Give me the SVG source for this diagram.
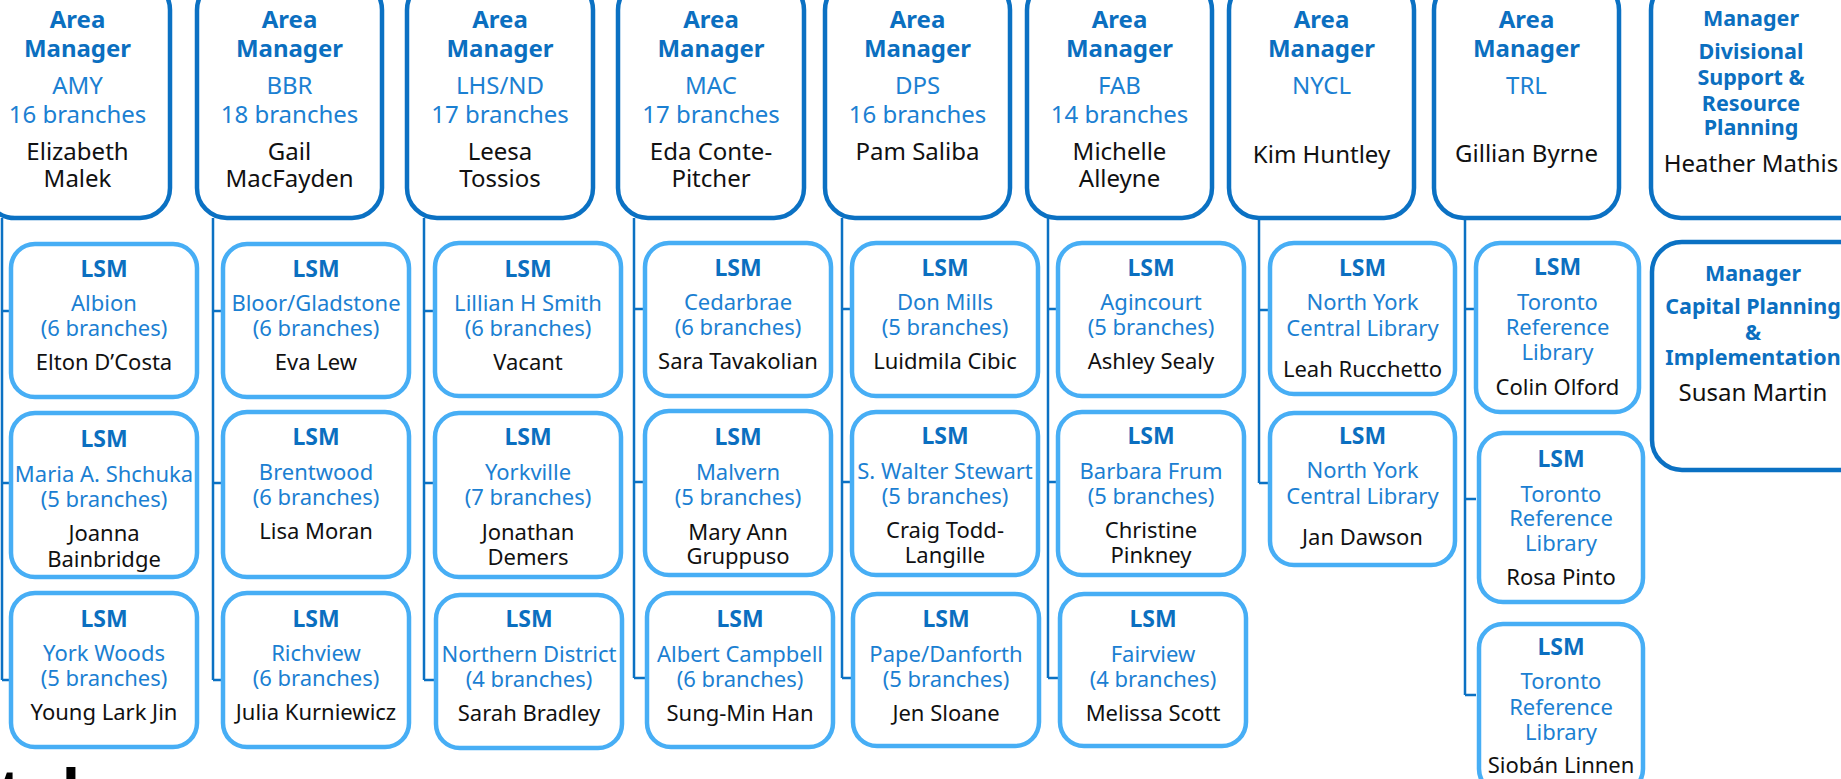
<svg xmlns="http://www.w3.org/2000/svg" width="1841" height="779" viewBox="0 0 1841 779">
<style>
text{font-family:"Noto Sans","Open Sans","Liberation Sans",sans-serif;text-anchor:middle}
.am{fill:#fff;stroke:#0b71c3;stroke-width:4.5}
.ls{fill:#fff;stroke:#47aef5;stroke-width:4.5}
.h{font-weight:bold;fill:#0b6fc0;font-size:24px}
.hs{font-weight:bold;fill:#0b6fc0;font-size:21.5px}
.c{fill:#1b80d2;font-size:24px}
.n{fill:#111;font-size:24px}
.lb{font-weight:bold;fill:#0b6fc0;font-size:23px}
.lr{fill:#1b80d2;font-size:22px}
.ln{fill:#111;font-size:22px}
.con{fill:none;stroke:#0b71c3;stroke-width:2.5}
</style>
<rect width="1841" height="779" fill="#fff"/>
<g id="connectors" class="con">
<path d="M2 218V680M2 311H11M2 483H11M2 680H11"/>
<path d="M213 218V680M213 311H223M213 483H223M213 680H223"/>
<path d="M424 218V680M424 311H435M424 483H435M424 680H435"/>
<path d="M634 218V678M634 309H645M634 482H645M634 678H645"/>
<path d="M842 218V678M842 309H852M842 482H852M842 678H852"/>
<path d="M1048 218V678M1048 309H1058M1048 482H1058M1048 678H1058"/>
<path d="M1259 218V483M1259 310H1270M1259 483H1270"/>
<path d="M1465 218V695M1465 309H1476M1465 499H1476M1465 695H1476"/>
</g>
<g id="am-amy"><rect class="am" x="-15" y="-20" width="185" height="238" rx="30"/>
<text x="77.5" y="28" class="h">Area</text><text x="77.5" y="57" class="h">Manager</text>
<text x="77.5" y="94" class="c">AMY</text><text x="77.5" y="123" class="c">16 branches</text>
<text x="77.5" y="160" class="n">Elizabeth</text><text x="77.5" y="187" class="n">Malek</text></g>
<g id="am-bbr"><rect class="am" x="197" y="-20" width="185" height="238" rx="30"/>
<text x="289.5" y="28" class="h">Area</text><text x="289.5" y="57" class="h">Manager</text>
<text x="289.5" y="94" class="c">BBR</text><text x="289.5" y="123" class="c">18 branches</text>
<text x="289.5" y="160" class="n">Gail</text><text x="289.5" y="187" class="n">MacFayden</text></g>
<g id="am-lhs"><rect class="am" x="407" y="-20" width="186" height="238" rx="30"/>
<text x="500" y="28" class="h">Area</text><text x="500" y="57" class="h">Manager</text>
<text x="500" y="94" class="c">LHS/ND</text><text x="500" y="123" class="c">17 branches</text>
<text x="500" y="160" class="n">Leesa</text><text x="500" y="187" class="n">Tossios</text></g>
<g id="am-mac"><rect class="am" x="618" y="-20" width="186" height="238" rx="30"/>
<text x="711" y="28" class="h">Area</text><text x="711" y="57" class="h">Manager</text>
<text x="711" y="94" class="c">MAC</text><text x="711" y="123" class="c">17 branches</text>
<text x="711" y="160" class="n">Eda Conte-</text><text x="711" y="187" class="n">Pitcher</text></g>
<g id="am-dps"><rect class="am" x="825" y="-20" width="185" height="238" rx="30"/>
<text x="917.5" y="28" class="h">Area</text><text x="917.5" y="57" class="h">Manager</text>
<text x="917.5" y="94" class="c">DPS</text><text x="917.5" y="123" class="c">16 branches</text>
<text x="917.5" y="160" class="n">Pam Saliba</text></g>
<g id="am-fab"><rect class="am" x="1027" y="-20" width="185" height="238" rx="30"/>
<text x="1119.5" y="28" class="h">Area</text><text x="1119.5" y="57" class="h">Manager</text>
<text x="1119.5" y="94" class="c">FAB</text><text x="1119.5" y="123" class="c">14 branches</text>
<text x="1119.5" y="160" class="n">Michelle</text><text x="1119.5" y="187" class="n">Alleyne</text></g>
<g id="am-nycl"><rect class="am" x="1229" y="-20" width="185" height="238" rx="30"/>
<text x="1321.5" y="28" class="h">Area</text><text x="1321.5" y="57" class="h">Manager</text>
<text x="1321.5" y="94" class="c">NYCL</text>
<text x="1321.5" y="163" class="n">Kim Huntley</text></g>
<g id="am-trl"><rect class="am" x="1434" y="-20" width="185" height="238" rx="30"/>
<text x="1526.5" y="28" class="h">Area</text><text x="1526.5" y="57" class="h">Manager</text>
<text x="1526.5" y="94" class="c">TRL</text>
<text x="1526.5" y="162" class="n">Gillian Byrne</text></g>
<g id="mgr-dsrp"><rect class="am" x="1651" y="-20" width="230" height="238" rx="30"/>
<text x="1751" y="26" class="hs">Manager</text>
<text x="1751" y="59" class="hs">Divisional</text><text x="1751" y="85" class="hs">Support &amp;</text>
<text x="1751" y="111" class="hs">Resource</text><text x="1751" y="135" class="hs">Planning</text>
<text x="1751" y="172" class="n">Heather Mathis</text></g>
<g id="mgr-cpi"><rect class="am" x="1652" y="242" width="230" height="228" rx="30"/>
<text x="1753" y="281" class="hs">Manager</text>
<text x="1753" y="314" class="hs">Capital Planning</text><text x="1753" y="340" class="hs">&amp;</text>
<text x="1753" y="365" class="hs">Implementation</text>
<text x="1753" y="401" class="n">Susan Martin</text></g>

<g id="lsm-albion"><rect class="ls" x="11" y="244" width="186" height="153" rx="24"/>
<text x="104" y="277" class="lb">LSM</text><text x="104" y="311" class="lr">Albion</text><text x="104" y="336" class="lr">(6 branches)</text><text x="104" y="370" class="ln">Elton D’Costa</text></g>
<g id="lsm-maria"><rect class="ls" x="11" y="413" width="186" height="164" rx="24"/>
<text x="104" y="447" class="lb">LSM</text><text x="104" y="482" class="lr">Maria A. Shchuka</text><text x="104" y="507" class="lr">(5 branches)</text><text x="104" y="541" class="ln">Joanna</text><text x="104" y="567" class="ln">Bainbridge</text></g>
<g id="lsm-yorkwoods"><rect class="ls" x="11" y="593" width="186" height="154" rx="24"/>
<text x="104" y="627" class="lb">LSM</text><text x="104" y="661" class="lr">York Woods</text><text x="104" y="686" class="lr">(5 branches)</text><text x="104" y="720" class="ln">Young Lark Jin</text></g>

<g id="lsm-bloor"><rect class="ls" x="223" y="244" width="186" height="153" rx="24"/>
<text x="316" y="277" class="lb">LSM</text><text x="316" y="311" class="lr">Bloor/Gladstone</text><text x="316" y="336" class="lr">(6 branches)</text><text x="316" y="370" class="ln">Eva Lew</text></g>
<g id="lsm-brentwood"><rect class="ls" x="223" y="412" width="186" height="165" rx="24"/>
<text x="316" y="445" class="lb">LSM</text><text x="316" y="480" class="lr">Brentwood</text><text x="316" y="505" class="lr">(6 branches)</text><text x="316" y="539" class="ln">Lisa Moran</text></g>
<g id="lsm-richview"><rect class="ls" x="223" y="593" width="186" height="154" rx="24"/>
<text x="316" y="627" class="lb">LSM</text><text x="316" y="661" class="lr">Richview</text><text x="316" y="686" class="lr">(6 branches)</text><text x="316" y="720" class="ln">Julia Kurniewicz</text></g>

<g id="lsm-lillian"><rect class="ls" x="435" y="243" width="186" height="153" rx="24"/>
<text x="528" y="277" class="lb">LSM</text><text x="528" y="311" class="lr">Lillian H Smith</text><text x="528" y="336" class="lr">(6 branches)</text><text x="528" y="370" class="ln">Vacant</text></g>
<g id="lsm-yorkville"><rect class="ls" x="435" y="413" width="186" height="164" rx="24"/>
<text x="528" y="445" class="lb">LSM</text><text x="528" y="480" class="lr">Yorkville</text><text x="528" y="505" class="lr">(7 branches)</text><text x="528" y="540" class="ln">Jonathan</text><text x="528" y="565" class="ln">Demers</text></g>
<g id="lsm-northern"><rect class="ls" x="436" y="595" width="186" height="153" rx="24"/>
<text x="529" y="627" class="lb">LSM</text><text x="529" y="662" class="lr">Northern District</text><text x="529" y="687" class="lr">(4 branches)</text><text x="529" y="721" class="ln">Sarah Bradley</text></g>

<g id="lsm-cedarbrae"><rect class="ls" x="645" y="243" width="186" height="153" rx="24"/>
<text x="738" y="276" class="lb">LSM</text><text x="738" y="310" class="lr">Cedarbrae</text><text x="738" y="335" class="lr">(6 branches)</text><text x="738" y="369" class="ln">Sara Tavakolian</text></g>
<g id="lsm-malvern"><rect class="ls" x="645" y="411" width="186" height="164" rx="24"/>
<text x="738" y="445" class="lb">LSM</text><text x="738" y="480" class="lr">Malvern</text><text x="738" y="505" class="lr">(5 branches)</text><text x="738" y="540" class="ln">Mary Ann</text><text x="738" y="564" class="ln">Gruppuso</text></g>
<g id="lsm-albertcampbell"><rect class="ls" x="647" y="593" width="186" height="154" rx="24"/>
<text x="740" y="627" class="lb">LSM</text><text x="740" y="662" class="lr">Albert Campbell</text><text x="740" y="687" class="lr">(6 branches)</text><text x="740" y="721" class="ln">Sung-Min Han</text></g>

<g id="lsm-donmills"><rect class="ls" x="852" y="243" width="186" height="153" rx="24"/>
<text x="945" y="276" class="lb">LSM</text><text x="945" y="310" class="lr">Don Mills</text><text x="945" y="335" class="lr">(5 branches)</text><text x="945" y="369" class="ln">Luidmila Cibic</text></g>
<g id="lsm-swalter"><rect class="ls" x="852" y="412" width="186" height="163" rx="24"/>
<text x="945" y="444" class="lb">LSM</text><text x="945" y="479" class="lr">S. Walter Stewart</text><text x="945" y="504" class="lr">(5 branches)</text><text x="945" y="538" class="ln">Craig Todd-</text><text x="945" y="563" class="ln">Langille</text></g>
<g id="lsm-pape"><rect class="ls" x="853" y="594" width="186" height="152" rx="24"/>
<text x="946" y="627" class="lb">LSM</text><text x="946" y="662" class="lr">Pape/Danforth</text><text x="946" y="687" class="lr">(5 branches)</text><text x="946" y="721" class="ln">Jen Sloane</text></g>

<g id="lsm-agincourt"><rect class="ls" x="1058" y="243" width="186" height="153" rx="24"/>
<text x="1151" y="276" class="lb">LSM</text><text x="1151" y="310" class="lr">Agincourt</text><text x="1151" y="335" class="lr">(5 branches)</text><text x="1151" y="369" class="ln">Ashley Sealy</text></g>
<g id="lsm-barbarafrum"><rect class="ls" x="1058" y="412" width="186" height="163" rx="24"/>
<text x="1151" y="444" class="lb">LSM</text><text x="1151" y="479" class="lr">Barbara Frum</text><text x="1151" y="504" class="lr">(5 branches)</text><text x="1151" y="538" class="ln">Christine</text><text x="1151" y="563" class="ln">Pinkney</text></g>
<g id="lsm-fairview"><rect class="ls" x="1060" y="594" width="186" height="152" rx="24"/>
<text x="1153" y="627" class="lb">LSM</text><text x="1153" y="662" class="lr">Fairview</text><text x="1153" y="687" class="lr">(4 branches)</text><text x="1153" y="721" class="ln">Melissa Scott</text></g>

<g id="lsm-nycl1"><rect class="ls" x="1270" y="243" width="185" height="151" rx="24"/>
<text x="1362.5" y="276" class="lb">LSM</text><text x="1362.5" y="310" class="lr">North York</text><text x="1362.5" y="336" class="lr">Central Library</text><text x="1362.5" y="377" class="ln">Leah Rucchetto</text></g>
<g id="lsm-nycl2"><rect class="ls" x="1270" y="413" width="185" height="152" rx="24"/>
<text x="1362.5" y="444" class="lb">LSM</text><text x="1362.5" y="478" class="lr">North York</text><text x="1362.5" y="504" class="lr">Central Library</text><text x="1362.5" y="545" class="ln">Jan Dawson</text></g>

<g id="lsm-trl1"><rect class="ls" x="1476" y="243" width="163" height="169" rx="24"/>
<text x="1557.5" y="275" class="lb">LSM</text><text x="1557.5" y="310" class="lr">Toronto</text><text x="1557.5" y="335" class="lr">Reference</text><text x="1557.5" y="360" class="lr">Library</text><text x="1557.5" y="395" class="ln">Colin Olford</text></g>
<g id="lsm-trl2"><rect class="ls" x="1479" y="433" width="164" height="169" rx="24"/>
<text x="1561" y="467" class="lb">LSM</text><text x="1561" y="502" class="lr">Toronto</text><text x="1561" y="526" class="lr">Reference</text><text x="1561" y="551" class="lr">Library</text><text x="1561" y="585" class="ln">Rosa Pinto</text></g>
<g id="lsm-trl3"><rect class="ls" x="1479" y="624" width="164" height="169" rx="24"/>
<text x="1561" y="655" class="lb">LSM</text><text x="1561" y="689" class="lr">Toronto</text><text x="1561" y="715" class="lr">Reference</text><text x="1561" y="740" class="lr">Library</text><text x="1561" y="773" class="ln">Siobán Linnen</text></g>

<g id="logo"><text x="-2" y="812" style="text-anchor:start;font-weight:bold;font-size:60px;fill:#000">tpl</text></g>
</svg>
